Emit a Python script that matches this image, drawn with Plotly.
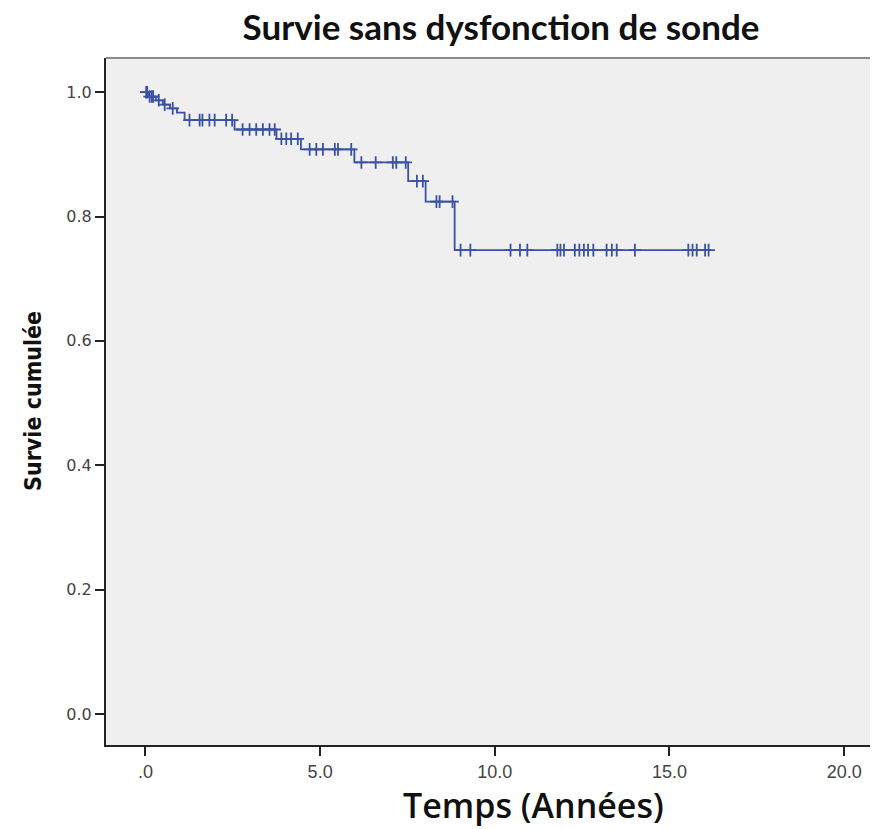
import plotly.graph_objects as go

# Kaplan-Meier estimate: event times (years) and survival after each event
event_times = [0.10, 0.30, 0.50, 0.70, 0.90, 1.12, 2.55, 3.75, 4.45, 5.98, 7.52, 8.02, 8.85]
survival = [0.993, 0.987, 0.980, 0.974, 0.967, 0.955, 0.940, 0.925, 0.908, 0.887, 0.857, 0.824, 0.746]

# Censored observations (years)
censored_times = [
    0.02, 0.05, 0.12, 0.18, 0.22, 0.38, 0.55, 0.78,
    1.26, 1.55, 1.63, 1.83, 1.98, 2.31, 2.48,
    2.78, 2.98, 3.17, 3.36, 3.55, 3.70,
    3.89, 4.03, 4.17, 4.36,
    4.70, 4.89, 5.08, 5.42, 5.51, 5.89,
    6.18, 6.59, 7.08, 7.18, 7.45,
    7.77, 7.94,
    8.33, 8.42, 8.79,
    9.02, 9.30, 10.45, 10.72, 10.93, 11.79, 11.88, 11.98, 12.29, 12.42,
    12.55, 12.67, 12.82, 13.20, 13.35, 13.49, 14.01, 15.54, 15.66, 15.78, 16.02, 16.12,
]

x_ticks = [0, 5, 10, 15, 20]
x_tick_labels = [".0", "5.0", "10.0", "15.0", "20.0"]
y_ticks = [0.0, 0.2, 0.4, 0.6, 0.8, 1.0]
y_tick_labels = ["0.0", "0.2", "0.4", "0.6", "0.8", "1.0"]

line_color = "#3b52a3"


def surv_at(t):
    s = 1.0
    for et, sv in zip(event_times, survival):
        if et <= t:
            s = sv
    return s


t_end = max(censored_times)
step_x = [0.0] + list(event_times) + [t_end]
step_y = [1.0] + list(survival) + [survival[-1]]

censor_y = [surv_at(t) for t in censored_times]

fig = go.Figure()
fig.add_trace(go.Scatter(
    x=step_x, y=step_y, mode="lines",
    line=dict(color=line_color, width=1.8, shape="hv"),
    hoverinfo="skip", showlegend=False,
))
fig.add_trace(go.Scatter(
    x=censored_times, y=censor_y, mode="markers",
    marker=dict(symbol="cross-thin", size=9, line=dict(color=line_color, width=1.8)),
    showlegend=False,
))

plot_w = 879 - 106 - 9
plot_h = 829 - 58 - 84

fig.update_layout(
    width=879, height=829,
    margin=dict(l=106, r=9, t=58, b=84),
    paper_bgcolor="white",
    plot_bgcolor="#efefef",
    title=dict(
        text="Survie sans dysfonction de sonde",
        font=dict(family="Lato, Open Sans, Liberation Sans", size=35, color="#111111", weight=700),
        x=0.57, xanchor="center", y=0.966, yanchor="middle",
    ),
    xaxis=dict(
        range=[-1.13, 20.74],
        tickvals=x_ticks, ticktext=x_tick_labels,
        ticks="outside", ticklen=9, tickwidth=1.5, tickcolor="#222222",
        showgrid=False, zeroline=False,
        showline=True, linecolor="#222222", linewidth=2,
        tickfont=dict(family="Liberation Sans, Arial", size=18, color="#444444"),
    ),
    yaxis=dict(
        range=[-0.05, 1.055],
        tickvals=y_ticks, ticktext=y_tick_labels,
        ticks="outside", ticklen=9, tickwidth=1.5, tickcolor="#222222",
        showgrid=False, zeroline=False,
        showline=True, linecolor="#222222", linewidth=2,
        tickfont=dict(family="DejaVu Sans", size=16, color="#444444"),
    ),
    shapes=[dict(type="line", xref="paper", yref="paper", x0=0, x1=1, y0=1, y1=1,
                 line=dict(color="#8a8a8a", width=2))],
    annotations=[
        dict(text="Temps (Années)", xref="paper", yref="paper",
             x=(533 - 106) / plot_w, y=-(805 - 745) / plot_h,
             xanchor="center", yanchor="middle", showarrow=False,
             font=dict(family="Open Sans, Lato, Liberation Sans", size=34, color="#111111", weight=600)),
        dict(text="<b>Survie cumulée</b>", xref="paper", yref="paper",
             x=-(106 - 33) / plot_w, y=(745 - 401) / plot_h,
             xanchor="center", yanchor="middle", showarrow=False, textangle=-90,
             font=dict(family="DejaVu Sans Condensed, DejaVu Sans", size=23, color="#111111")),
    ],
)

fig.write_html("out.html")
